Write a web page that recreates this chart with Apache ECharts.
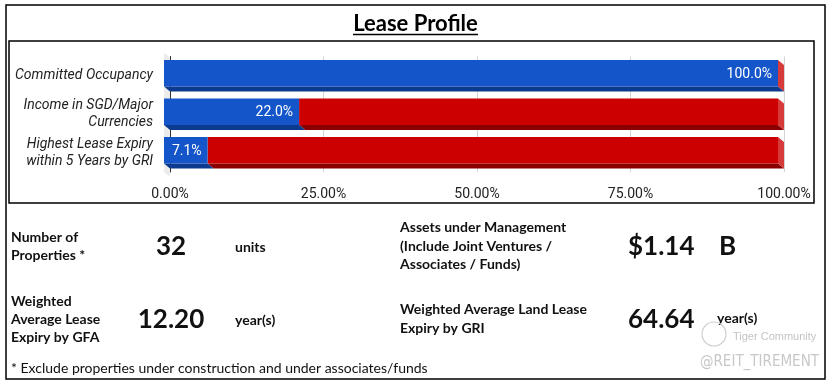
<!DOCTYPE html>
<html><head><meta charset="utf-8">
<script src="https://cdn.jsdelivr.net/npm/echarts@6/dist/echarts.min.js"></script>
<style>html,body{margin:0;padding:0;background:#fff}#c{width:831px;height:382px}</style>
</head><body><div id="c"></div>
<script>
// ---- data ----
const categories = ['Committed Occupancy', 'Income in SGD/Major\nCurrencies', 'Highest Lease Expiry\nwithin 5 Years by GRI'];
const inValues = [100.0, 22.0, 7.1];     // blue share (%)
const outValues = [0.0, 78.0, 92.9];     // red remainder (%)
const xTicks = [0, 25, 50, 75, 100];
const statLabelsLeft = ['Number of\nProperties *', 'Weighted\nAverage Lease\nExpiry by GFA'];
const statValuesLeft = ['32', '12.20'];
const statUnitsLeft = ['units', 'year(s)'];
const statLabelsRight = ['Assets under Management\n(Include Joint Ventures /\nAssociates / Funds)', 'Weighted Average Land Lease\nExpiry by GRI'];
const statValuesRight = ['$1.14', '64.64'];
const statUnitsRight = ['B', 'year(s)'];
const footnote = '* Exclude properties under construction and under associates/funds';

const DX = 6, DY = 5;
const COLORS = {
  blue: {front: '#1456c9', bottom: '#0c3a8e', end: '#3a6fd0'},
  red: {front: '#cc0000', bottom: '#8a0000', end: '#d63a3a'}
};

function makeRender(col, withLabel, withEnd) {
  return function (params, api) {
    const cat = api.value(1);
    const start = api.value(2);
    const end = start + api.value(0);
    const p0 = api.coord([start, cat]);
    const p1 = api.coord([end, cat]);
    const band = api.size([0, 1])[1];
    const total = band * 0.818;
    const top = p0[1] - total / 2;
    const fb = top + total - DY;
    const x0 = p0[0] - DX, x1 = p1[0] - DX;
    const children = [];
    if (x1 > x0) {
      children.push({type: 'polygon', shape: {points: [[x0, fb], [x1, fb], [x1 + DX, fb + DY], [x0 + DX, fb + DY]]}, style: {fill: col.bottom}});
      children.push({type: 'rect', shape: {x: x0, y: top, width: x1 - x0, height: fb - top}, style: {fill: col.front}});
    }
    if (withEnd) {
      children.push({type: 'polygon', shape: {points: [[x1, top], [x1 + DX, top + DY], [x1 + DX, fb + DY], [x1, fb]]}, style: {fill: col.end}});
    }
    if (withLabel) {
      children.push({type: 'text', style: {text: api.value(0).toFixed(1) + '%', x: x1 - 6, y: (top + fb) / 2 + 1,
        align: 'right', verticalAlign: 'middle', fill: '#ffffff', font: '14px Roboto'}});
    }
    return {type: 'group', children: children};
  };
}

const inData = inValues.map((v, i) => [v, i, 0]);
const outData = outValues.map((v, i) => [v, i, inValues[i]]);

const chart = echarts.init(document.getElementById('c'), null, {renderer: 'canvas'});

const graphics = [];
graphics.push({type: 'rect', shape: {x: 6, y: 5, width: 819, height: 374}, style: {fill: 'none', stroke: '#000', lineWidth: 1.5}, z: 10});
graphics.push({type: 'rect', shape: {x: 9, y: 41, width: 805, height: 162}, style: {fill: 'none', stroke: '#000', lineWidth: 1.5}, z: 10});
graphics.push({type: 'text', style: {text: 'Lease Profile', x: 415.5, y: 24, align: 'center', verticalAlign: 'middle', font: 'bold 22px Lato', fill: '#000'}});
graphics.push({type: 'line', shape: {x1: 353, y1: 34.5, x2: 478, y2: 34.5}, style: {stroke: '#000', lineWidth: 1.5}});

const bold = 'bold 14px Lato';
const big = 'bold 26px Lato';
const leftY = [246, 319];
const rightY = [246, 319];
statLabelsLeft.forEach((t, i) => {
  graphics.push({type: 'text', style: {text: t, x: 11, y: leftY[i], verticalAlign: 'middle', font: bold, lineHeight: 18, fill: '#111'}});
  graphics.push({type: 'text', style: {text: statValuesLeft[i], x: 171, y: leftY[i] + 1, align: 'center', verticalAlign: 'middle', font: big, fill: '#111'}});
  graphics.push({type: 'text', style: {text: statUnitsLeft[i], x: 235, y: leftY[i] + 1, verticalAlign: 'middle', font: bold, fill: '#111'}});
});
statLabelsRight.forEach((t, i) => {
  graphics.push({type: 'text', style: {text: t, x: 400, y: rightY[i], verticalAlign: 'middle', font: bold, lineHeight: 18.5, fill: '#111'}});
  graphics.push({type: 'text', style: {text: statValuesRight[i], x: 628, y: rightY[i] + 1, verticalAlign: 'middle', font: big, fill: '#111'}});
});
graphics.push({type: 'text', style: {text: statUnitsRight[0], x: 719, y: 247, verticalAlign: 'middle', font: big, fill: '#111'}});
graphics.push({type: 'text', style: {text: statUnitsRight[1], x: 717, y: 318, verticalAlign: 'middle', font: bold, fill: '#111'}});
graphics.push({type: 'text', style: {text: footnote, x: 11, y: 368, verticalAlign: 'middle', font: '14px Lato', fill: '#111'}});
// watermark
graphics.push({type: 'circle', shape: {cx: 714, cy: 334, r: 12}, style: {fill: 'none', stroke: '#cfcfcf', lineWidth: 1.2}});
graphics.push({type: 'text', style: {text: 'Tiger Community', x: 733, y: 337, verticalAlign: 'middle', font: '11px "Liberation Sans"', fill: '#c4c4c4'}});
graphics.push({type: 'text', style: {text: '@REIT_TIREMENT', x: 700, y: 362, verticalAlign: 'middle', font: '15px "DejaVu Sans Condensed", "Liberation Sans Narrow"', fill: '#c8c8c8'}});

chart.setOption({
  animation: false,
  grid: {left: 170, right: 47, top: 56.5, height: 115.5},
  xAxis: {
    type: 'value', min: 0, max: 100, interval: 25,
    axisLine: {show: false}, axisTick: {show: false},
    splitLine: {lineStyle: {color: '#d4d4d4', width: 1}},
    axisLabel: {margin: 15, color: '#222', fontFamily: 'Roboto', fontSize: 14,
      formatter: v => xTicks.indexOf(v) >= 0 ? v.toFixed(2) + '%' : ''}
  },
  yAxis: {
    type: 'category', data: categories, inverse: true,
    axisLine: {show: true, lineStyle: {color: '#333', width: 1}},
    axisTick: {show: false},
    axisLabel: {interval: 0, margin: 17, color: '#222', fontFamily: 'Roboto', fontStyle: 'italic', fontSize: 14,
      lineHeight: 17, padding: [0, 0, 5, 0], align: 'right'}
  },
  series: [
    {type: 'custom', name: 'wall', z: 1, silent: true, data: [[0]],
      renderItem: function (params, api) {
        const cs = params.coordSys;
        return {type: 'polygon', shape: {points: [[cs.x - DX, cs.y - 4], [cs.x, cs.y + 1], [cs.x, cs.y + cs.height + 5], [cs.x - DX, cs.y + cs.height]]},
          style: {fill: '#ececec'}};
      }},
    {type: 'custom', name: 'In', z: 3, data: inData, encode: {x: 0, y: 1}, renderItem: makeRender(COLORS.blue, true, false)},
    {type: 'custom', name: 'Out', z: 2, data: outData, encode: {x: 0, y: 1}, renderItem: makeRender(COLORS.red, false, true)}
  ],
  graphic: graphics
});
</script></body></html>
